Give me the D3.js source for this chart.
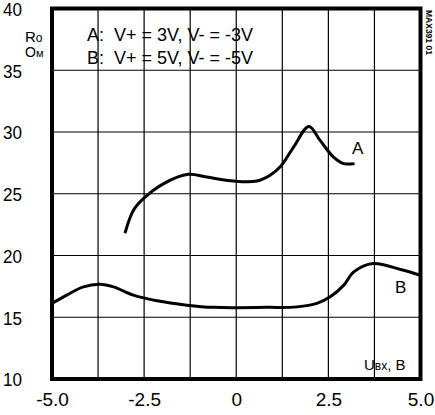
<!DOCTYPE html>
<html><head><meta charset="utf-8">
<script src="https://cdn.jsdelivr.net/npm/d3@7"></script>
<style>
body{margin:0;background:#fff;}
svg{display:block;}
text{font-family:"Liberation Sans Narrow","Arial Narrow","Liberation Sans",sans-serif;fill:#000;}
</style></head>
<body>
<svg id="c" width="435" height="415"></svg>
<script>
const xTicks = [-5.0, -2.5, 0, 2.5, 5.0];
const xTickLabels = ["-5.0", "-2.5", "0", "2.5", "5.0"];
const xGrid = [-3.75, -2.5, -1.25, 0, 1.25, 2.5, 3.75];
const yTicks = [10, 15, 20, 25, 30, 35, 40];
const seriesAx = [-3.02,-2.79,-2.52,-1.98,-1.30,-0.80,-0.07,0.56,0.92,1.20,1.56,1.97,2.28,2.64,2.92,3.21];
const seriesAy = [21.8,23.66,24.6,25.8,26.57,26.35,26.03,26.03,26.5,27.2,28.8,30.45,29.3,27.97,27.44,27.44];
const seriesBx = [-5.0,-4.6,-4.15,-3.70,-3.33,-2.79,-2.15,-1.34,-0.62,0.83,1.65,2.19,2.55,2.92,3.19,3.71,4.46,5.0];
const seriesBy = [16.12,16.79,17.46,17.68,17.46,16.79,16.33,15.98,15.8,15.8,15.84,16.12,16.65,17.6,18.67,19.35,18.87,18.4];
const legendLines = ["A:  V+ = 3V, V- = -3V", "B:  V+ = 5V, V- = -5V"];

const svg = d3.select("#c");
const x = d3.scaleLinear().domain([-5, 5]).range([52, 420.5]);
const y = d3.scaleLinear().domain([10, 40]).range([379, 8.5]);

// grid
svg.append("g").selectAll("line").data(xGrid).join("line")
  .attr("x1", d => x(d)).attr("x2", d => x(d)).attr("y1", y(40)).attr("y2", y(10))
  .attr("stroke", "#000").attr("stroke-width", 1.2);
svg.append("g").selectAll("line").data(yTicks.slice(1, -1)).join("line")
  .attr("x1", x(-5)).attr("x2", x(5)).attr("y1", d => y(d)).attr("y2", d => y(d))
  .attr("stroke", "#000").attr("stroke-width", 1.2);

// axes labels via d3 axes (no lines)
const xAxis = svg.append("g").attr("transform", `translate(0,${y(10)})`)
  .call(d3.axisBottom(x).tickValues(xTicks).tickFormat((d, i) => xTickLabels[i]).tickSize(0).tickPadding(14));
xAxis.select(".domain").remove();
xAxis.selectAll("text").attr("font-size", 19).attr("font-family", null);

const yAxis = svg.append("g").attr("transform", `translate(3,0)`)
  .call(d3.axisLeft(y).tickValues(yTicks).tickFormat(d3.format("d")).tickSize(0).tickPadding(0));
yAxis.select(".domain").remove();
yAxis.selectAll("text").attr("text-anchor", "start").attr("font-size", 19).attr("font-family", null)
  .attr("dy", "0.36em").attr("textLength", 19).attr("lengthAdjust", "spacingAndGlyphs");

// curves
const line = d3.line().x(d => x(d[0])).y(d => y(d[1])).curve(d3.curveCatmullRom.alpha(0.5));
svg.append("path").datum(d3.zip(seriesAx, seriesAy)).attr("d", line)
  .attr("fill", "none").attr("stroke", "#000").attr("stroke-width", 3);
svg.append("path").datum(d3.zip(seriesBx, seriesBy)).attr("d", line)
  .attr("fill", "none").attr("stroke", "#000").attr("stroke-width", 3);

// frame
svg.append("rect").attr("x", x(-5)).attr("y", y(40)).attr("width", x(5) - x(-5)).attr("height", y(10) - y(40))
  .attr("fill", "none").attr("stroke", "#000").attr("stroke-width", 4);

// legend
svg.append("g").selectAll("text").data(legendLines).join("text")
  .attr("x", 87).attr("y", (d, i) => 41 + i * 22.5).attr("font-size", 18).text(d => d).style("white-space","pre");

// curve labels
svg.append("text").attr("x", 352).attr("y", 154).attr("font-size", 17).text("A");
svg.append("text").attr("x", 395).attr("y", 293).attr("font-size", 17).text("B");

// y unit
const yu = svg.append("text").attr("x", 25).attr("y", 42).attr("font-size", 15);
yu.append("tspan").text("R");
yu.append("tspan").attr("font-size", 12).text("o");
const yu2 = svg.append("text").attr("x", 25).attr("y", 57).attr("font-size", 14);
yu2.append("tspan").text("О");
yu2.append("tspan").attr("font-size", 11).text("м");

// x unit
const xu = svg.append("text").attr("x", 364).attr("y", 370).attr("font-size", 15);
xu.append("tspan").text("U");
xu.append("tspan").attr("font-size", 12).text("вх");
xu.append("tspan").text(", В");

// code
svg.append("text").attr("transform", "translate(425.5,10) rotate(90)").attr("font-size", 8.5)
  .attr("font-weight", "bold").attr("font-family", "Liberation Sans").text("MAX391 01");
</script>
</body></html>
